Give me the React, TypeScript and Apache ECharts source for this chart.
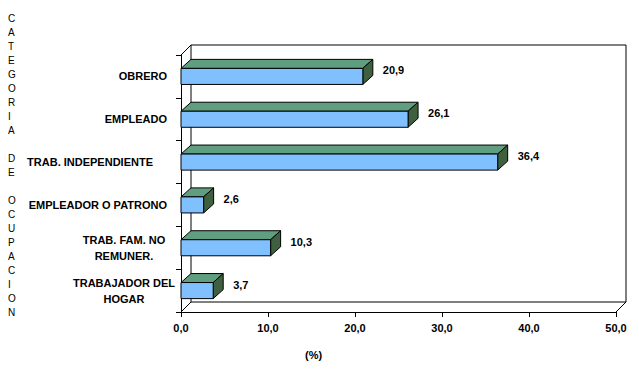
import React, { useEffect, useRef } from "react";
import * as echarts from "echarts";

const categories = [
  "OBRERO",
  "EMPLEADO",
  "TRAB. INDEPENDIENTE",
  "EMPLEADOR O PATRONO",
  "TRAB. FAM. NO\nREMUNER.",
  "TRABAJADOR DEL\nHOGAR",
];
const values = [20.9, 26.1, 36.4, 2.6, 10.3, 3.7];
const xTicks = { min: 0, max: 50, interval: 10 };
const yTitle = "CATEGORIA DE OCUPACION";
const xTitle = "(%)";

const FONT = "'Liberation Sans', Arial, sans-serif";
const DX = 10;
const DY = -9;

const fmt = (v: number) => v.toFixed(1).replace(".", ",");

export default function App() {
  const ref = useRef<HTMLDivElement>(null);
  useEffect(() => {
    if (!ref.current) return;
    const chart = echarts.init(ref.current, null, { renderer: "svg" });
    const verticalTitle = yTitle.split("").join("\n");
    const labelBase = {
      color: "#000",
      fontFamily: FONT,
      fontWeight: "bold",
      fontSize: 11,
      lineHeight: 16,
    };
    chart.setOption({
      animation: false,
      backgroundColor: "#ffffff",
      grid: { left: 181, right: 23, top: 55, bottom: 60 },
      xAxis: {
        type: "value",
        min: xTicks.min,
        max: xTicks.max,
        interval: xTicks.interval,
        axisLine: { show: true, lineStyle: { color: "#000", width: 1 } },
        axisTick: { show: true, length: 5, lineStyle: { color: "#000" } },
        splitLine: { show: false },
        axisLabel: {
          color: "#000",
          fontFamily: FONT,
          fontWeight: "bold",
          fontSize: 11,
          margin: 10,
          formatter: (v: number) => fmt(v),
        },
      },
      yAxis: {
        type: "category",
        inverse: true,
        data: categories,
        axisLine: { show: true, lineStyle: { color: "#000", width: 1 } },
        axisTick: { show: true, length: 5, lineStyle: { color: "#000" } },
        axisLabel: {
          ...labelBase,
          margin: 14,
          formatter: (v: string, i: number) => {
            if (v.indexOf("\n") >= 0)
              return v
                .split("\n")
                .map((s) => "{c|" + s + "}")
                .join("\n");
            if (i === 2) return "{p|" + v + "}";
            return v;
          },
          rich: {
            c: { ...labelBase, width: 86, align: "center" },
            p: { ...labelBase, padding: [0, 14, 0, 0] },
          },
        },
      },
      graphic: [
        {
          type: "text",
          left: 8,
          top: 11,
          style: {
            text: verticalTitle,
            fontFamily: FONT,
            fontSize: 10,
            lineHeight: 14,
            fill: "#000",
            align: "center",
          },
        },
        {
          type: "text",
          left: 305,
          top: 349,
          style: {
            text: xTitle,
            fontFamily: FONT,
            fontWeight: "bold",
            fontSize: 11,
            fill: "#000",
          },
        },
      ],
      series: [
        {
          type: "custom",
          z: 1,
          clip: false,
          silent: true,
          data: [[0, 0]],
          renderItem: (params: any) => {
            const cs = params.coordSys;
            const x = cs.x, y = cs.y, w = cs.width, h = cs.height;
            const dx = 10, dy = -10;
            const ls = { stroke: "#000", lineWidth: 1, fill: "none" };
            return {
              type: "group",
              children: [
                { type: "rect", shape: { x: x + dx, y: y + dy, width: w, height: h }, style: { stroke: "#000", lineWidth: 1, fill: "#fff" } },
                { type: "line", shape: { x1: x, y1: y, x2: x + dx, y2: y + dy }, style: ls },
                { type: "line", shape: { x1: x, y1: y + h, x2: x + dx, y2: y + h + dy }, style: ls },
                { type: "line", shape: { x1: x + w, y1: y + h, x2: x + w + dx, y2: y + h + dy }, style: ls },
              ],
            };
          },
        },
        {
          type: "custom",
          z: 2,
          clip: false,
          silent: true,
          data: values.map((v, i) => [v, i]),
          encode: { x: 0, y: 1 },
          renderItem: (params: any, api: any) => {
            const v = api.value(0);
            const c = api.value(1);
            const s = api.coord([0, c]);
            const e = api.coord([v, c]);
            const bh = api.size([0, 1])[1] * 0.375;
            const x0 = s[0], x1 = e[0];
            const y0 = s[1] - bh / 2;
            const st = { stroke: "#000", lineWidth: 1 };
            return {
              type: "group",
              children: [
                {
                  type: "polygon",
                  shape: { points: [[x0, y0], [x1, y0], [x1 + DX, y0 + DY], [x0 + DX, y0 + DY]] },
                  style: { ...st, fill: "#5f9f7f" },
                },
                {
                  type: "polygon",
                  shape: { points: [[x1, y0], [x1 + DX, y0 + DY], [x1 + DX, y0 + bh + DY], [x1, y0 + bh]] },
                  style: { ...st, fill: "#3f603f" },
                },
                {
                  type: "rect",
                  shape: { x: x0, y: y0, width: x1 - x0, height: bh },
                  style: { ...st, fill: "#80c0ff" },
                },
                {
                  type: "text",
                  x: x1 + 20,
                  y: y0 + 2,
                  style: {
                    text: fmt(v),
                    fontFamily: FONT,
                    fontWeight: "bold",
                    fontSize: 11,
                    fill: "#000",
                    verticalAlign: "middle",
                    align: "left",
                  },
                },
              ],
            };
          },
        },
      ],
    });
    return () => chart.dispose();
  }, []);
  return (
    <div
      ref={ref}
      style={{ position: "fixed", left: 0, top: 0, width: 639, height: 372 }}
    />
  );
}
